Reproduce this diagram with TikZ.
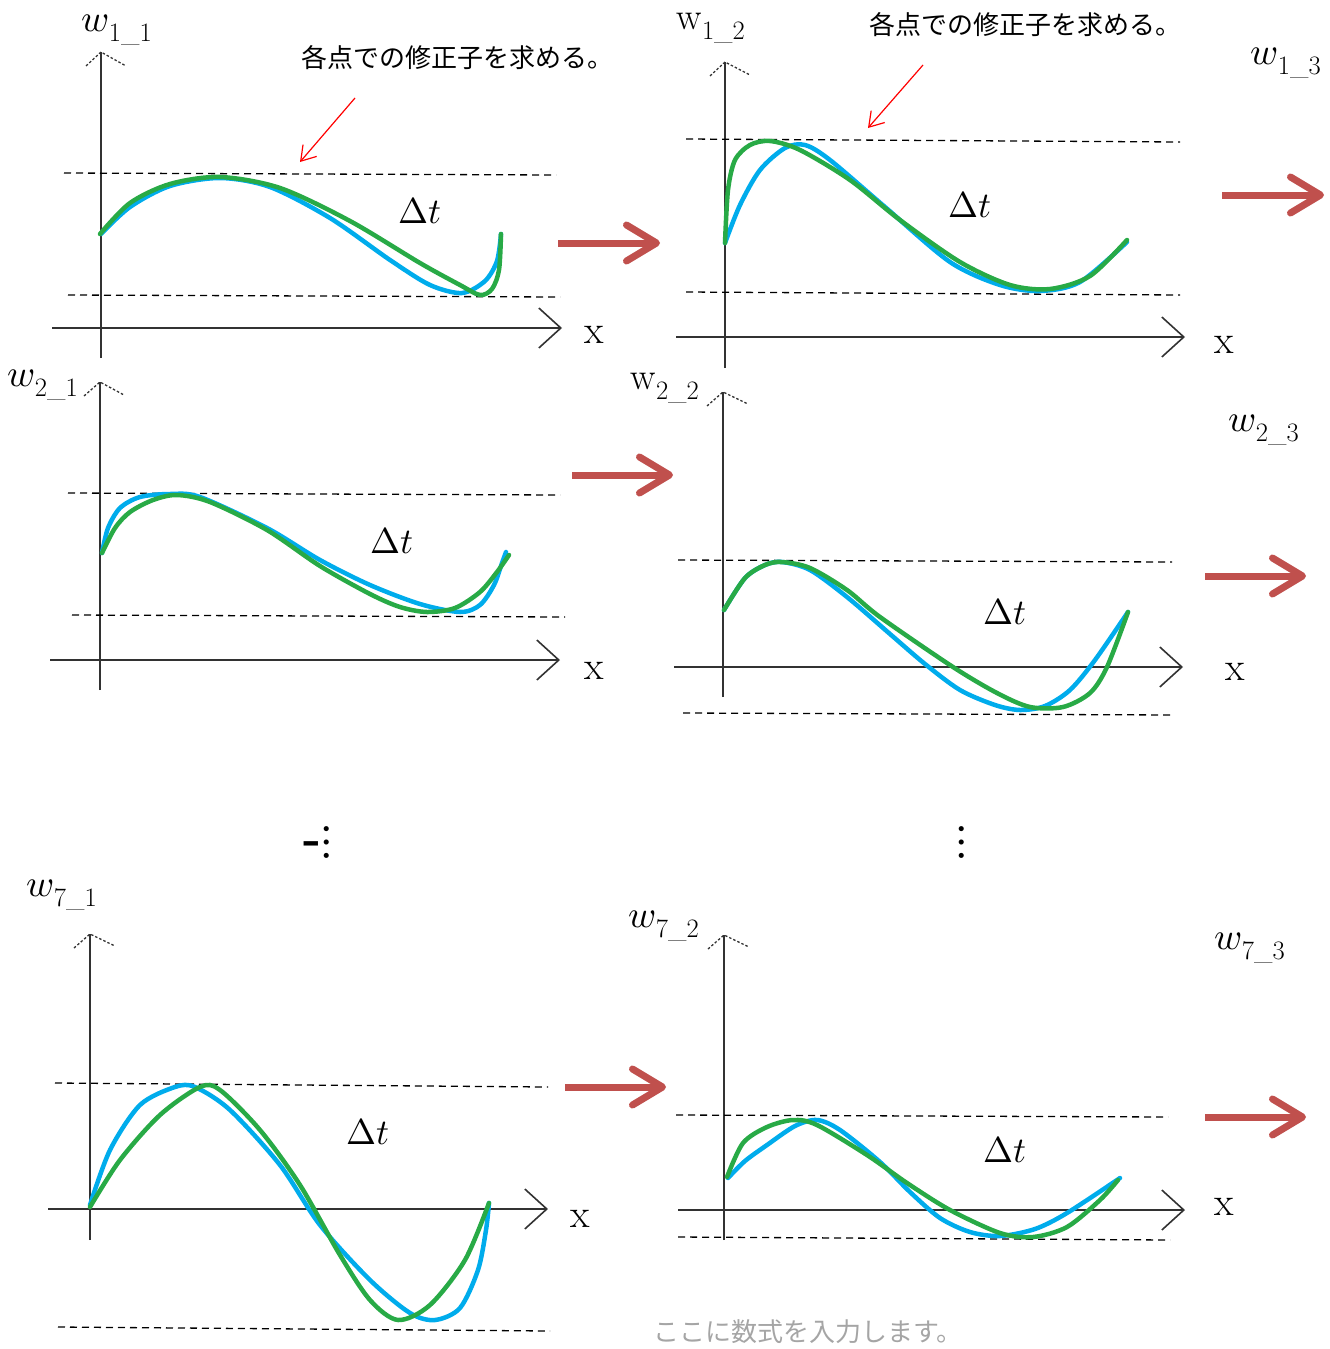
\documentclass[tikz,border=0pt]{standalone}
\usepackage{amsmath}
\usepackage{fontspec}
\usepackage{unicode-math}
\setmathfont{Latin Modern Math}
\newfontfamily\jpfont{Noto Sans CJK JP}
\usepackage{tikz}
\usetikzlibrary{arrows.meta}
\definecolor{curveblue}{RGB}{0,172,236}
\definecolor{curvegreen}{RGB}{40,170,70}
\definecolor{stepred}{RGB}{192,80,77}
\definecolor{axisgray}{RGB}{50,50,50}
\definecolor{hintgray}{RGB}{165,165,165}
\tikzset{
  axis/.style={line width=1.6pt, color=axisgray},
  xtip/.style={-{Straight Barb[length=22pt,width=40pt]}, line width=1.6pt, color=axisgray},
  yhead/.style={line width=1.3pt, color=axisgray, dash pattern=on 2.5pt off 2pt},
  guide/.style={line width=1.3pt, dash pattern=on 7pt off 5pt},
  bluecurve/.style={line width=4.5pt, color=curveblue, line join=round, line cap=round},
  greencurve/.style={line width=4.5pt, color=curvegreen, line join=round, line cap=round},
  steparrow/.style={-{Straight Barb[length=30pt,width=36pt,round]}, line width=7pt, color=stepred},
  notearrow/.style={-{Straight Barb[length=14pt,width=18pt]}, line width=1.2pt, color=red},
  wlabel/.style={font=\fontsize{38}{42}\selectfont},
  xlabel/.style={font=\fontsize{40}{44}\selectfont},
  dtlabel/.style={font=\fontsize{36}{40}\selectfont},
  note/.style={font=\fontsize{26}{30}\selectfont\jpfont},
  dotslabel/.style={font=\fontsize{48}{52}\selectfont}
}

\begin{document}
\begin{tikzpicture}[x=1pt, y=-1pt]
  \useasboundingbox (0,0) rectangle (1330,1349);

  % Panel w_{1_1}
  \draw[axis] (101,358) -- (101,52);
  \draw[yhead] (86,66) -- (101,52) -- (126,66);
  \draw[xtip] (52,328) -- (562,328);
  \draw[guide] (64,173) -- (556,175);
  \draw[guide] (68,295) -- (560,297);
  \draw[bluecurve] plot[smooth] coordinates {(101,234) (130,207) (170,186) (220,178) (270,187) (330,218) (390,260) (430,285) (462,293) (485,281) (497,261) (501,234)};
  \draw[greencurve] plot[smooth] coordinates {(100,234) (130,203) (170,184) (220,177) (280,188) (350,221) (420,263) (460,285) (480,295) (492,289) (499,270) (501,234)};
  \node[wlabel] (w11) at (117,30) {$w_{\text{1\_1}}$};
  \node[note] (note11) at (457,58) {各点での修正子を求める。};
  \coordinate (n11s) at (355,98);
  \coordinate (n11e) at (300,162);
  \draw[notearrow] (n11s) -- (n11e);
  \node[dtlabel] (dt11) at (420,211) {$\Delta t$};
  \node[xlabel] (x11) at (594,335) {x};
  \coordinate (s11a) at (558,243);
  \coordinate (s11b) at (660,243);
  \draw[steparrow] (s11a) -- (s11b);

  % Panel w_{1_2}
  \draw[axis] (725,368) -- (725,62);
  \draw[yhead] (710,76) -- (725,62) -- (750,75);
  \draw[xtip] (676,337) -- (1185,337);
  \draw[guide] (686,139) -- (1180,142);
  \draw[guide] (686,292) -- (1180,295);
  \draw[bluecurve] plot[smooth] coordinates {(725,243) (740,205) (760,170) (785,148) (805,145) (830,160) (885,207) (950,262) (1000,285) (1040,291) (1080,282) (1127,242)};
  \draw[greencurve] plot[smooth] coordinates {(725,243) (728,190) (735,160) (750,145) (770,141) (800,150) (850,180) (900,220) (960,262) (1010,285) (1050,289) (1090,276) (1127,240)};
  \node[wlabel] (w12) at (711,28) {$\mathrm{w}_{\text{1\_2}}$};
  \node[note] (note12) at (1025,25) {各点での修正子を求める。};
  \coordinate (n12s) at (923,65);
  \coordinate (n12e) at (868,128);
  \draw[notearrow] (n12s) -- (n12e);
  \node[dtlabel] (dt12) at (970,205) {$\Delta t$};
  \node[xlabel] (x12) at (1224,345) {x};
  \node[wlabel] (w13) at (1286,63) {$w_{\text{1\_3}}$};
  \coordinate (s12a) at (1222,195);
  \coordinate (s12b) at (1324,195);
  \draw[steparrow] (s12a) -- (s12b);

  % Panel w_{2_1}
  \draw[axis] (100,690) -- (100,382);
  \draw[yhead] (84,396) -- (100,382) -- (124,395);
  \draw[xtip] (50,660) -- (560,660);
  \draw[guide] (68,493) -- (560,495);
  \draw[guide] (72,615) -- (565,617);
  \draw[bluecurve] plot[smooth] coordinates {(102,553) (108,528) (120,508) (140,497) (170,494) (200,497) (267,528) (320,560) (370,585) (420,604) (460,612) (480,605) (494,585) (502,563) (506,552)};
  \draw[greencurve] plot[smooth] coordinates {(102,553) (115,528) (130,512) (153,500) (177,495) (210,502) (267,530) (320,566) (370,594) (400,607) (427,612) (455,608) (480,592) (497,572) (509,555)};
  \node[wlabel] (w21) at (43,385) {$w_{\text{2\_1}}$};
  \node[dtlabel] (dt21) at (392,541) {$\Delta t$};
  \node[xlabel] (x21) at (594,671) {x};
  \coordinate (s21a) at (572,475);
  \coordinate (s21b) at (673,475);
  \draw[steparrow] (s21a) -- (s21b);

  % Panel w_{2_2}
  \draw[axis] (723,697) -- (723,392);
  \draw[yhead] (707,406) -- (723,392) -- (748,404);
  \draw[xtip] (674,667) -- (1183,667);
  \draw[guide] (678,560) -- (1172,562);
  \draw[guide] (683,713) -- (1173,715);
  \draw[bluecurve] plot[smooth] coordinates {(724,610) (745,578) (765,565) (782,562) (810,570) (847,597) (890,634) (925,664) (960,690) (995,705) (1020,710) (1045,706) (1070,690) (1095,660) (1128,612)};
  \draw[greencurve] plot[smooth] coordinates {(724,610) (745,578) (765,565) (782,562) (810,568) (847,590) (880,617) (953,667) (997,693) (1030,707) (1063,707) (1090,693) (1107,667) (1128,612)};
  \node[wlabel] (w22) at (665,388) {$\mathrm{w}_{\text{2\_2}}$};
  \node[wlabel] (w23) at (1264,430) {$w_{\text{2\_3}}$};
  \node[dtlabel] (dt22) at (1005,612) {$\Delta t$};
  \node[xlabel] (x22) at (1235,672) {x};
  \coordinate (s22a) at (1205,576);
  \coordinate (s22b) at (1306,576);
  \draw[steparrow] (s22a) -- (s22b);

  % Skipped rows
  \node[dotslabel, inner sep=0pt] (dotsl) at (318,842) {\textbf{-}$\vdots$};
  \node[dotslabel, inner sep=0pt] (dotsr) at (962,842) {$\vdots$};

  % Panel w_{7_1}
  \draw[axis] (90,1240) -- (90,934);
  \draw[yhead] (74,948) -- (90,934) -- (115,946);
  \draw[xtip] (48,1209) -- (548,1209);
  \draw[guide] (55,1083) -- (548,1087);
  \draw[guide] (58,1327) -- (550,1331);
  \draw[bluecurve] plot[smooth] coordinates {(90,1205) (110,1150) (140,1105) (175,1087) (195,1087) (230,1110) (280,1165) (320,1225) (370,1280) (410,1313) (435,1320) (460,1308) (478,1270) (486,1230) (489,1203)};
  \draw[greencurve] plot[smooth] coordinates {(90,1207) (120,1160) (160,1115) (200,1087) (220,1090) (260,1130) (300,1185) (340,1255) (370,1300) (398,1320) (430,1305) (465,1260) (489,1203)};
  \node[wlabel] (w71) at (62,895) {$w_{\text{7\_1}}$};
  \node[dtlabel] (dt71) at (368,1132) {$\Delta t$};
  \node[xlabel] (x71) at (580,1219) {x};
  \coordinate (s71a) at (565,1087);
  \coordinate (s71b) at (666,1087);
  \draw[steparrow] (s71a) -- (s71b);

  % Panel w_{7_2}
  \draw[axis] (724,1240) -- (724,935);
  \draw[yhead] (708,949) -- (724,935) -- (749,947);
  \draw[xtip] (678,1210) -- (1185,1210);
  \draw[guide] (676,1115) -- (1168,1117);
  \draw[guide] (678,1237) -- (1170,1240);
  \draw[bluecurve] plot[smooth] coordinates {(728,1178) (745,1161) (767,1145) (795,1126) (817,1120) (840,1130) (880,1162) (910,1192) (940,1218) (970,1232) (1000,1236) (1035,1229) (1067,1213) (1120,1178)};
  \draw[greencurve] plot[smooth] coordinates {(727,1177) (743,1143) (767,1127) (793,1120) (817,1125) (867,1155) (907,1183) (950,1210) (1000,1233) (1033,1237) (1067,1227) (1100,1200) (1118,1180)};
  \node[wlabel] (w72) at (664,926) {$w_{\text{7\_2}}$};
  \node[wlabel] (w73) at (1250,948) {$w_{\text{7\_3}}$};
  \node[dtlabel] (dt72) at (1005,1150) {$\Delta t$};
  \node[xlabel] (x72) at (1224,1207) {x};
  \coordinate (s72a) at (1205,1117);
  \coordinate (s72b) at (1306,1117);
  \draw[steparrow] (s72a) -- (s72b);

  % Placeholder text
  \node[note, text=hintgray] (hint) at (808,1332) {ここに数式を入力します。};
\end{tikzpicture}
\end{document}
